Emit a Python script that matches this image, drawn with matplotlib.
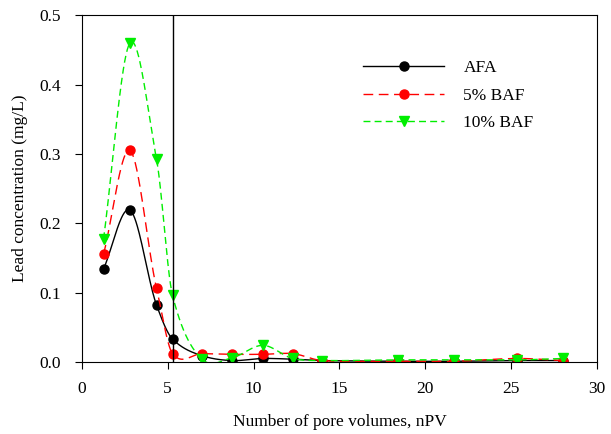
import numpy as np
import matplotlib
matplotlib.use("Agg")
import matplotlib.pyplot as plt

plt.rcParams['font.family'] = ['Liberation Serif', 'DejaVu Serif']

# pore volumes (nPV)
npv = [1.26, 2.8, 4.35, 5.28, 7.0, 8.74, 10.54, 12.28, 14.0, 18.43, 21.68, 25.37, 28.03]
afa = [0.134, 0.219, 0.082, 0.033, 0.009, 0.002, 0.005, 0.004, 0.002, 0.001, 0.001, 0.002, 0.002]
baf5 = [0.155, 0.305, 0.106, 0.012, 0.012, 0.011, 0.011, 0.012, 0.002, 0.001, 0.001, 0.005, 0.002]
baf10 = [0.177, 0.460, 0.292, 0.096, 0.004, 0.006, 0.024, 0.005, 0.002, 0.003, 0.003, 0.003, 0.005]
vline_x = 5.28


def smooth(x, y, n=40, c=0.9):
    # cardinal hermite spline through the points
    x = np.asarray(x, float)
    y = np.asarray(y, float)
    m = np.zeros_like(y)
    m[1:-1] = c * (y[2:] - y[:-2]) / (x[2:] - x[:-2])
    m[0] = (y[1] - y[0]) / (x[1] - x[0])
    m[-1] = (y[-1] - y[-2]) / (x[-1] - x[-2])
    xs, ys = [], []
    for i in range(len(x) - 1):
        h = x[i + 1] - x[i]
        t = np.linspace(0, 1, n, endpoint=False)
        h00 = 2 * t**3 - 3 * t**2 + 1
        h10 = t**3 - 2 * t**2 + t
        h01 = -2 * t**3 + 3 * t**2
        h11 = t**3 - t**2
        xs.append(x[i] + t * h)
        ys.append(h00 * y[i] + h10 * h * m[i] + h01 * y[i + 1] + h11 * h * m[i + 1])
    xs.append([x[-1]])
    ys.append([y[-1]])
    return np.concatenate(xs), np.concatenate(ys)


fig = plt.figure(figsize=(6.11, 4.34), dpi=100)
ax = fig.add_axes([0.134, 0.166, 0.843, 0.799])

series = [
    (afa, 'black', 'o', '-', 'AFA'),
    (baf5, '#ff0000', 'o', (0, (7, 4)), '5% BAF'),
    (baf10, '#00ee00', 'v', (0, (5, 3)), '10% BAF'),
]
for ys, col, mk, ls, lab in series:
    sx, sy = smooth(npv, ys)
    ax.plot(sx, sy, color=col, lw=1.0, linestyle=ls)
    ax.plot(npv, ys, linestyle='none', marker=mk, color=col, markersize=6.5)
    ax.plot([], [], color=col, lw=1.0, linestyle=ls, marker=mk,
            markersize=6.5, label=lab)

ax.axvline(vline_x, color='black', lw=1.0)

ax.set_xlim(0, 30)
ax.set_ylim(0, 0.5)
ax.set_xticks(np.arange(0, 31, 5))
ax.set_yticks(np.arange(0, 0.51, 0.1))
ax.set_yticklabels(['0.0', '0.1', '0.2', '0.3', '0.4', '0.5'])
ax.tick_params(direction='out', labelsize=12.5, length=5)
ax.tick_params(axis='x', pad=9)
ax.tick_params(axis='y', pad=10)
ax.set_xlabel('Number of pore volumes, nPV', fontsize=12.5, labelpad=12)
ax.set_ylabel('Lead concentration (mg/L)', fontsize=12.5, labelpad=8)

handles, labels = ax.get_legend_handles_labels()
ax.legend(handles, labels, loc='upper left', bbox_to_anchor=(0.515, 0.915),
          frameon=False, fontsize=12.5, handlelength=4.7, handletextpad=1.1,
          labelspacing=0.65)

fig.savefig('out.png', dpi=100)
